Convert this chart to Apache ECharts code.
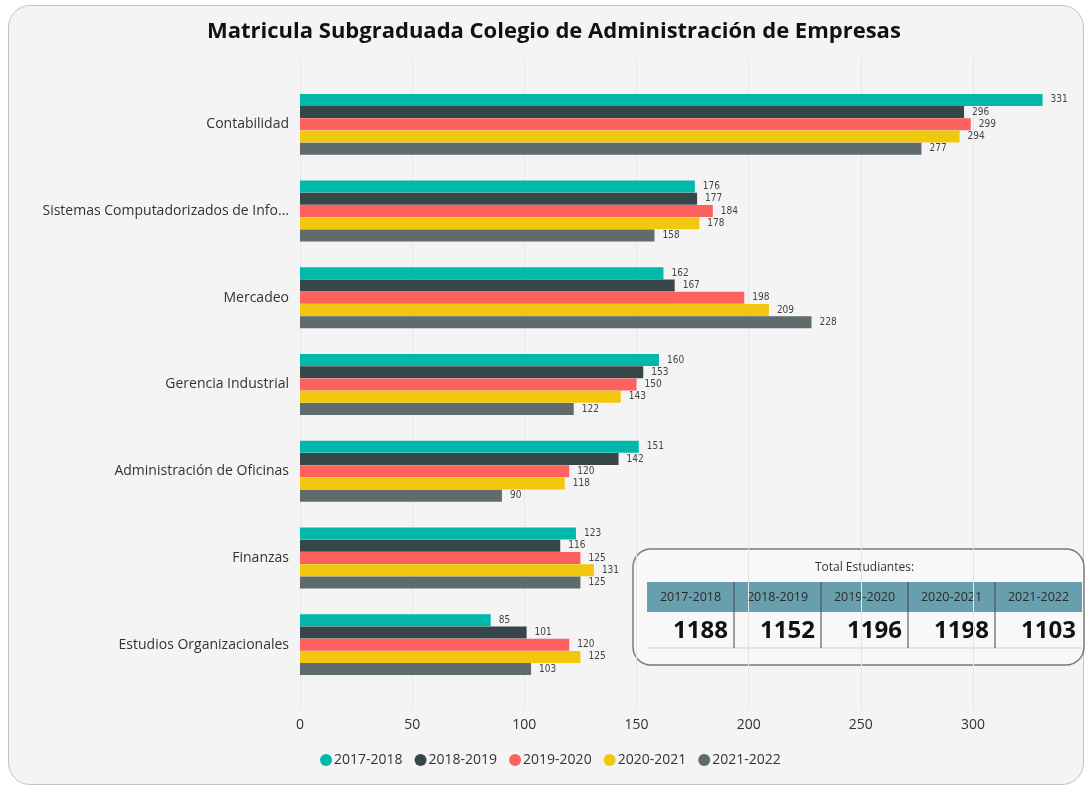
<!DOCTYPE html>
<html>
<head>
<meta charset="utf-8">
<script src="https://cdn.jsdelivr.net/npm/echarts@6/dist/echarts.min.js"></script>
<style>
  html, body { margin: 0; padding: 0; background: #fff; }
  #frame {
    position: absolute; left: 8px; top: 5px; width: 1074px; height: 778px;
    border: 1.5px solid #c4c4c4; border-radius: 22px; background: #f4f4f4;
  }
  #main { position: absolute; left: 0; top: 0; width: 1085px; height: 786px; }
</style>
</head>
<body>
<div id="frame"></div>
<div id="main"></div>
<script>
// programas (de arriba hacia abajo)
var programas = [
    'Contabilidad',
    'Sistemas Computadorizados de Información',
    'Mercadeo',
    'Gerencia Industrial',
    'Administración de Oficinas',
    'Finanzas',
    'Estudios Organizacionales'
];
var years = ['2017-2018', '2018-2019', '2019-2020', '2020-2021', '2021-2022'];
var colors = ['#01B8AA', '#374649', '#FD625E', '#F2C80F', '#5F6B6D'];

var v2017 = [331, 176, 162, 160, 151, 123, 85];
var v2018 = [296, 177, 167, 153, 142, 116, 101];
var v2019 = [299, 184, 198, 150, 120, 125, 120];
var v2020 = [294, 178, 209, 143, 118, 131, 125];
var v2021 = [277, 158, 228, 122, 90, 125, 103];
var valores = [v2017, v2018, v2019, v2020, v2021];

var xTicks = [0, 50, 100, 150, 200, 250, 300];

var font = "'Open Sans', 'Noto Sans', sans-serif";

var dom = document.getElementById('main');
var myChart = echarts.init(dom, null, { renderer: 'canvas' });

var series = years.map(function (y, i) {
    return {
        name: y,
        type: 'bar',
        xAxisIndex: 0,
        yAxisIndex: 0,
        data: valores[i],
        barWidth: 12,
        barGap: '2%',
        itemStyle: { color: colors[i] },
        label: {
            show: true,
            position: 'right',
            distance: 8,
            fontSize: 10,
            fontFamily: "'DejaVu Sans Condensed', 'DejaVu Sans', sans-serif",
            color: '#444'
        }
    };
});

// tabla de totales
var totales = valores.map(function (arr) {
    return arr.reduce(function (a, b) { return a + b; }, 0);
});
var tX = 647, tW = 87, hdrY = 582, hdrH = 30, valY = 612, valH = 36;
var tabla = [
    {
        type: 'rect',
        shape: { x: 633, y: 549, width: 451, height: 116, r: 18 },
        style: { fill: '#f8f8f8', stroke: '#7a7a7a', lineWidth: 1.5 }
    },
    {
        type: 'text',
        x: tX + tW * 2.5, y: 568,
        style: { text: 'Total Estudiantes:', fontSize: 12, fontFamily: font, fill: '#333', align: 'center', verticalAlign: 'middle' }
    },
    {
        type: 'line',
        shape: { x1: tX, y1: valY + valH, x2: tX + tW * 5, y2: valY + valH },
        style: { stroke: '#cfcfcf', lineWidth: 1 }
    }
];
years.forEach(function (y, i) {
    tabla.push({
        type: 'rect',
        shape: { x: tX + tW * i, y: hdrY, width: tW, height: hdrH },
        style: { fill: '#689FAF' }
    });
    tabla.push({
        type: 'text',
        x: tX + tW * i + tW / 2, y: hdrY + hdrH / 2,
        style: { text: y, fontSize: 12.5, fontFamily: font, fill: '#2a2a2a', align: 'center', verticalAlign: 'middle' }
    });
    tabla.push({
        type: 'text',
        x: tX + tW * (i + 1) - 6, y: valY + valH / 2 + 1,
        style: { text: String(totales[i]), fontSize: 24, fontWeight: 'bold', fontFamily: font, fill: '#111', align: 'right', verticalAlign: 'middle' }
    });
    if (i > 0) {
        tabla.push({
            type: 'line',
            shape: { x1: tX + tW * i, y1: hdrY, x2: tX + tW * i, y2: valY + valH },
            style: { stroke: '#444', lineWidth: 1 }
        });
    }
});

var option = {
    backgroundColor: 'transparent',
    color: colors,
    textStyle: { fontFamily: font },
    title: {
        text: 'Matricula Subgraduada Colegio de Administración de Empresas',
        left: 202,
        top: 16,
        textStyle: { fontSize: 22, fontWeight: 'bold', color: '#111', fontFamily: font }
    },
    legend: {
        bottom: 14,
        left: 315,
        icon: 'circle',
        itemWidth: 12,
        itemHeight: 12,
        itemGap: 12,
        textStyle: { fontSize: 14, color: '#333', fontFamily: font, padding: [0, 0, 0, -3] },
        data: years
    },
    grid: [
        { left: 300, right: 11, top: 81, bottom: 98 },
        { left: 300, right: 11, top: 58, bottom: 76 }
    ],
    xAxis: [
        {
            type: 'value', gridIndex: 0, min: 0, max: 345,
            show: false, splitLine: { show: false }
        },
        {
            type: 'value', gridIndex: 1, min: 0, max: 345, interval: 50,
            axisLine: { show: false },
            axisTick: { show: false },
            splitLine: { show: true, showMaxLine: false, lineStyle: { color: '#e6e6e6', width: 1 } },
            axisLabel: {
                showMaxLabel: false,
                fontSize: 14, color: '#333', fontFamily: font, margin: 8,
                formatter: function (v) { return xTicks.indexOf(v) >= 0 ? String(v) : ''; }
            }
        }
    ],
    yAxis: [
        {
            type: 'category', gridIndex: 0, inverse: true,
            data: programas,
            axisLine: { show: false },
            axisTick: { show: false },
            axisLabel: {
                fontSize: 14, color: '#333', fontFamily: font, margin: 11,
                width: 258, overflow: 'truncate', ellipsis: '...'
            }
        },
        { type: 'value', gridIndex: 1, min: 0, max: 1, show: false }
    ],
    series: series,
    graphic: [{ type: 'group', z: 100, children: tabla }]
};

myChart.setOption(option);

window.addEventListener('resize', myChart.resize);
</script>
</body>
</html>
